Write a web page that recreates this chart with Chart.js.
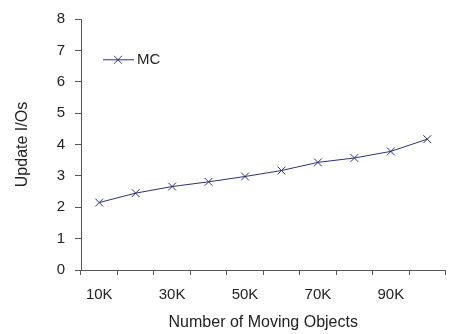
<!DOCTYPE html>
<html lang="en">
<head>
    <meta charset="UTF-8">
    <title>Update I/Os</title>
    <script src="https://cdn.jsdelivr.net/npm/chart.js"></script>
    <style>
        html, body { margin: 0; padding: 0; background: #fff; overflow: hidden; }
        #wrap { width: 452px; height: 334px; }
    </style>
</head>
<body>
    <div id="wrap">
        <canvas id="chart" width="452" height="334"></canvas>
    </div>
    <script>
        // data
        var categories = ['10K', '20K', '30K', '40K', '50K', '60K', '70K', '80K', '90K', '100K'];
        var mcValues = [2.15, 2.45, 2.66, 2.81, 2.98, 3.17, 3.43, 3.57, 3.78, 4.17];
        var seriesName = 'MC';
        var lineColor = '#2f3272';
        var axisColor = '#555555';
        var font = 'Liberation Sans, Arial, sans-serif';

        // small legend drawn inside the plot, like the original
        var innerLegend = {
            id: 'innerLegend',
            afterDraw: function (chart) {
                var ctx = chart.ctx;
                var y = chart.scales.y.getPixelForValue(6.7);
                var x0 = chart.chartArea.left + 22;
                ctx.save();
                ctx.strokeStyle = lineColor;
                ctx.lineWidth = 1;
                ctx.beginPath();
                ctx.moveTo(x0, y);
                ctx.lineTo(x0 + 31, y);
                ctx.stroke();
                var cx = x0 + 15, r = 4;
                ctx.beginPath();
                ctx.moveTo(cx - r, y - r); ctx.lineTo(cx + r, y + r);
                ctx.moveTo(cx - r, y + r); ctx.lineTo(cx + r, y - r);
                ctx.stroke();
                ctx.fillStyle = '#222';
                ctx.font = '15px ' + font;
                ctx.textBaseline = 'middle';
                ctx.fillText(seriesName, x0 + 34, y);
                ctx.restore();
            }
        };

        Chart.defaults.font.family = font;
        Chart.defaults.color = '#222';

        new Chart(document.getElementById('chart').getContext('2d'), {
            type: 'line',
            data: {
                labels: categories,
                datasets: [{
                    label: seriesName,
                    data: mcValues,
                    borderColor: lineColor,
                    borderWidth: 1,
                    pointStyle: 'crossRot',
                    pointRadius: 5.5,
                    pointBorderColor: lineColor,
                    pointBorderWidth: 1,
                    fill: false,
                    tension: 0
                }]
            },
            options: {
                responsive: false,
                animation: false,
                layout: { padding: { top: 17, right: 0, left: 0, bottom: 0 } },
                plugins: { legend: { display: false }, tooltip: { enabled: false } },
                scales: {
                    x: {
                        offset: true,
                        grid: { display: true, offset: true, drawOnChartArea: false, tickLength: 5, color: axisColor },
                        border: { color: axisColor },
                        ticks: {
                            autoSkip: false,
                            maxRotation: 0,
                            padding: 11,
                            font: { size: 15 },
                            callback: function (v, i) { return i % 2 === 0 ? categories[i] : ''; }
                        },
                        title: { display: true, text: 'Number of Moving Objects', font: { size: 16 }, padding: { top: 4, bottom: 2 } },
                        afterFit: function (s) { s.height = 64; }
                    },
                    y: {
                        min: 0,
                        max: 8,
                        grid: { display: true, drawOnChartArea: false, tickLength: 6, color: axisColor },
                        border: { color: axisColor },
                        ticks: { stepSize: 1, padding: 10, font: { size: 15 } },
                        title: { display: true, text: 'Update I/Os', font: { size: 16 }, padding: { top: 13, bottom: 8 } },
                        afterFit: function (s) { s.width = 81; }
                    }
                }
            },
            plugins: [innerLegend]
        });
    </script>
</body>
</html>
